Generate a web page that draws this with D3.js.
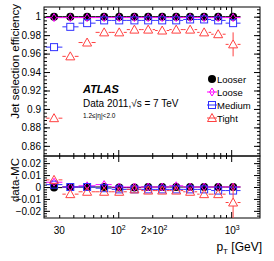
<!DOCTYPE html>
<html>
<head>
<meta charset="utf-8">
<script src="https://cdn.jsdelivr.net/npm/d3@7"></script>
<style>
  body { margin: 0; background: #fff; }
  svg text { font-family: "Liberation Sans", Arial, sans-serif; }
</style>
</head>
<body>
<script>
// bins in pT [GeV]
const ptLo = [23, 32, 44.5, 63, 87.5, 119, 160, 212, 283, 376, 500, 665, 893];
const ptHi = [32, 44.5, 63, 87.5, 119, 160, 212, 283, 376, 500, 665, 893, 1210];
const pt = [27, 37.6, 53, 75, 102, 139, 184, 245, 326, 433, 576, 767, 1040];

// efficiencies (upper panel)
const effLooser = [1.0, 1.0, 1.0, 1.0, 1.0, 1.0, 1.0, 1.0, 1.0, 1.0, 1.0, 1.0, 1.0];
const effLoose = [0.999, 0.999, 0.999, 0.999, 0.999, 0.999, 0.999, 0.999, 0.999, 0.999, 0.999, 0.999, 0.999];
const effMedium = [0.967, 0.989, 0.993, 0.996, 0.996, 0.996, 0.996, 0.996, 0.996, 0.997, 0.997, 0.996, 0.993];
const effTight = [0.890, 0.957, 0.972, 0.983, 0.983, 0.986, 0.986, 0.985, 0.986, 0.986, 0.983, 0.981, 0.970];
const errTight = [0, 0, 0, 0, 0, 0, 0, 0, 0, 0, 0, 0, 0.013];

// data - MC (lower panel)
const dLooser = [-0.0005, 0, 0, 0, -0.0005, -0.0005, 0, 0, 0, 0, 0, 0, 0];
const dLoose = [0.004, 0, 0.001, 0.002, 0, 0, 0, 0, 0.001, 0, 0, 0, 0];
const dMedium = [0.002, 0, 0, -0.001, -0.002, -0.002, -0.002, -0.002, -0.002, -0.002, -0.002, -0.003, -0.003];
const dTight = [0.006, -0.006, -0.004, -0.004, -0.004, -0.002, -0.003, -0.003, -0.003, -0.004, -0.006, -0.006, -0.013];
const dErrTight = [0, 0, 0, 0, 0, 0, 0, 0, 0, 0, 0, 0, 0.016];

const upTicks = [0.86, 0.88, 0.9, 0.92, 0.94, 0.96, 0.98, 1];
const lowTicks = [-0.02, -0.01, 0, 0.01, 0.02];
const seriesNames = ["Looser", "Loose", "Medium", "Tight"];

const W = 274, H = 261;
const padL = 44, padR = 260, padT = 7, padMid = 156, padB = 218;

const svg = d3.select("body").append("svg")
  .attr("width", W).attr("height", H);

const x = d3.scaleLog().domain([22, 1800]).range([padL, padR]);
const yUp = d3.scaleLinear().domain([0.849, 1.0105]).range([padMid, padT]);
const yLow = d3.scaleLinear().domain([-0.026, 0.026]).range([padB, padMid]);

const colors = { Looser: "#000000", Loose: "#ff00ff", Medium: "#3030ff", Tight: "#ff4040" };

// clip per panel
const defs = svg.append("defs");
defs.append("clipPath").attr("id", "clipUp").append("rect")
  .attr("x", padL).attr("y", padT).attr("width", padR - padL).attr("height", padMid - padT);
defs.append("clipPath").attr("id", "clipLow").append("rect")
  .attr("x", padL).attr("y", padMid).attr("width", padR - padL).attr("height", padB - padMid);

// minor x ticks (log)
const xMinor = [];
[10, 100, 1000].forEach(d => { for (let k = 2; k <= 9; k++) { const v = d * k; if (v > 22 && v < 1800) xMinor.push(v); } });
const xMajor = [100, 1000];

function drawFrame(y, majors, minors, fmt) {
  const g = svg.append("g").attr("color", "#000");
  // left
  g.append("g").attr("transform", `translate(${padL},0)`)
    .call(d3.axisLeft(y).tickValues(minors).tickSize(-3).tickFormat(""))
    .call(a => a.select(".domain").remove());
  g.append("g").attr("transform", `translate(${padL},0)`)
    .call(d3.axisLeft(y).tickValues(majors).tickSizeInner(-6).tickSizeOuter(0).tickPadding(3).tickFormat(fmt))
    .call(a => a.select(".domain").remove())
    .call(a => a.selectAll("text").attr("font-size", 10).attr("font-family", null));
  // right
  g.append("g").attr("transform", `translate(${padR},0)`)
    .call(d3.axisRight(y).tickValues(minors).tickSize(-3).tickFormat(""))
    .call(a => a.select(".domain").remove());
  g.append("g").attr("transform", `translate(${padR},0)`)
    .call(d3.axisRight(y).tickValues(majors).tickSize(-6).tickFormat(""))
    .call(a => a.select(".domain").remove());
  // top & bottom
  const yt = y.range()[1], yb = y.range()[0];
  g.append("g").attr("transform", `translate(0,${yb})`)
    .call(d3.axisBottom(x).tickValues(xMinor).tickSize(-3).tickFormat(""))
    .call(a => a.select(".domain").remove());
  g.append("g").attr("transform", `translate(0,${yb})`)
    .call(d3.axisBottom(x).tickValues(xMajor).tickSize(-6).tickFormat(""))
    .call(a => a.select(".domain").remove());
  g.append("g").attr("transform", `translate(0,${yt})`)
    .call(d3.axisTop(x).tickValues(xMinor).tickSize(-3).tickFormat(""))
    .call(a => a.select(".domain").remove());
  g.append("g").attr("transform", `translate(0,${yt})`)
    .call(d3.axisTop(x).tickValues(xMajor).tickSize(-6).tickFormat(""))
    .call(a => a.select(".domain").remove());
  g.append("rect").attr("x", padL).attr("y", yt).attr("width", padR - padL).attr("height", yb - yt)
    .attr("fill", "none").attr("stroke", "#000").attr("stroke-width", 1);
}

const upMinor = d3.range(0.852, 1.009, 0.004).map(v => +v.toFixed(3));
const lowMinor = d3.range(-0.024, 0.0245, 0.002).map(v => +v.toFixed(3));
drawFrame(yUp, upTicks, upMinor, d => d === 1 ? "1" : d3.format(".2~f")(d));
drawFrame(yLow, lowTicks, lowMinor, d => d === 0 ? "0" : d3.format(".2f")(d));

// markers
function marker(g, name, cx, cy) {
  const c = colors[name];
  if (name === "Looser") {
    g.append("circle").attr("cx", cx).attr("cy", cy).attr("r", 4).attr("fill", "#000");
  } else if (name === "Loose") {
    const s = 4;
    g.append("path").attr("d", `M${cx},${cy - s}L${cx + s * 0.6},${cy}L${cx},${cy + s}L${cx - s * 0.6},${cy}Z`)
      .attr("fill", "none").attr("stroke", c).attr("stroke-width", 1);
  } else if (name === "Medium") {
    g.append("rect").attr("x", cx - 3.5).attr("y", cy - 3.5).attr("width", 7).attr("height", 7)
      .attr("fill", "none").attr("stroke", c).attr("stroke-width", 1);
  } else {
    g.append("path").attr("d", `M${cx},${cy - 4.5}L${cx + 4.5},${cy + 3.5}L${cx - 4.5},${cy + 3.5}Z`)
      .attr("fill", "none").attr("stroke", c).attr("stroke-width", 1);
  }
}
const halfSize = { Looser: 4, Loose: 2.5, Medium: 3.5, Tight: 4.5 };

function drawSeries(y, clip, name, vals, errs) {
  const g = svg.append("g").attr("clip-path", `url(#${clip})`);
  const c = colors[name];
  vals.forEach((v, i) => {
    const cx = x(pt[i]), cy = y(v), h = halfSize[name];
    g.append("line").attr("x1", x(ptLo[i])).attr("x2", cx - h).attr("y1", cy).attr("y2", cy)
      .attr("stroke", c).attr("stroke-width", 1);
    g.append("line").attr("x1", cx + h).attr("x2", x(ptHi[i])).attr("y1", cy).attr("y2", cy)
      .attr("stroke", c).attr("stroke-width", 1);
    if (errs && errs[i] > 0) {
      g.append("line").attr("x1", cx).attr("x2", cx).attr("y1", y(v + errs[i])).attr("y2", cy - h)
        .attr("stroke", c).attr("stroke-width", 1);
      g.append("line").attr("x1", cx).attr("x2", cx).attr("y1", cy + 3.5).attr("y2", y(v - errs[i]))
        .attr("stroke", c).attr("stroke-width", 1);
    }
    marker(g, name, cx, cy);
  });
}

drawSeries(yUp, "clipUp", "Looser", effLooser);
drawSeries(yUp, "clipUp", "Loose", effLoose);
drawSeries(yUp, "clipUp", "Medium", effMedium);
drawSeries(yUp, "clipUp", "Tight", effTight, errTight);

drawSeries(yLow, "clipLow", "Looser", dLooser);
drawSeries(yLow, "clipLow", "Loose", dLoose);
drawSeries(yLow, "clipLow", "Medium", dMedium);
drawSeries(yLow, "clipLow", "Tight", dTight, dErrTight);

// x tick labels
const xl = svg.append("g").attr("font-size", 10).attr("text-anchor", "middle");
xl.append("text").attr("x", x(30)).attr("y", 234).text("30");
const t100 = xl.append("text").attr("x", x(100)).attr("y", 234);
t100.append("tspan").text("10");
t100.append("tspan").attr("dy", -4).attr("font-size", 7).text("2");
const t200 = xl.append("text").attr("x", x(200) + 2).attr("y", 234);
t200.append("tspan").text("2×10");
t200.append("tspan").attr("dy", -4).attr("font-size", 7).text("2");
const t1000 = xl.append("text").attr("x", x(1000) + 1).attr("y", 234);
t1000.append("tspan").text("10");
t1000.append("tspan").attr("dy", -4).attr("font-size", 7).text("3");

// axis titles
const xt = svg.append("text").attr("x", 262).attr("y", 251).attr("text-anchor", "end").attr("font-size", 12);
xt.append("tspan").text("p");
xt.append("tspan").attr("dy", 3).attr("font-size", 8).text("T");
xt.append("tspan").attr("dy", -3).text(" [GeV]");

svg.append("text").attr("transform", `translate(19,4) rotate(-90)`)
  .attr("text-anchor", "end").attr("font-size", 11.5).text("Jet selection efficiency");
svg.append("text").attr("transform", `translate(19,${padMid + 2}) rotate(-90)`)
  .attr("text-anchor", "end").attr("font-size", 11.5).text("data-MC");

// labels
svg.append("text").attr("x", 83).attr("y", 93).attr("font-size", 11)
  .attr("font-weight", "bold").attr("font-style", "italic").text("ATLAS");
svg.append("text").attr("x", 83).attr("y", 107).attr("font-size", 10).text("Data 2011,\u221As = 7 TeV");
svg.append("text").attr("x", 83).attr("y", 118).attr("font-size", 6.5).text("1.2\u2264|\u03b7|<2.0");

// legend
const lg = svg.append("g");
seriesNames.forEach((name, i) => {
  const cy = 79 + i * 13, cx = 212;
  if (name !== "Looser") {
    lg.append("line").attr("x1", cx - 5).attr("x2", cx + 5).attr("y1", cy).attr("y2", cy)
      .attr("stroke", colors[name]).attr("stroke-width", 1);
  }
  marker(lg, name, cx, cy);
  lg.append("text").attr("x", 217).attr("y", cy + 3.5).attr("font-size", 9.5).text(name);
});
</script>
</body>
</html>
